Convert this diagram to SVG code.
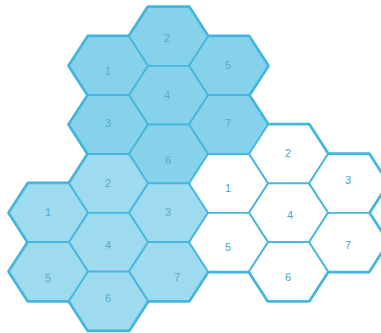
<svg xmlns="http://www.w3.org/2000/svg" xmlns:xlink="http://www.w3.org/1999/xlink" width="381" height="333" viewBox="0 0 381 333">
<style>
.under{fill:#3fb4dc;stroke:#3fb4dc;stroke-width:3.6;stroke-linejoin:round}
.h{stroke:#45b6dd;stroke-width:1.8;stroke-linejoin:round}
.a .h{fill:#86d2ea}
.b .h{fill:#9edbee}
.c .h{fill:#ffffff}
text{font-family:"Liberation Sans",Arial,sans-serif;font-size:11px;text-anchor:middle;fill:#5aaac6}
.c text{fill:#4aa6c4}
</style>
<defs>
<polygon id="hex" points="-39.5,0 -20.5,-29.4 20.5,-29.4 39.5,0 20.5,29.4 -20.5,29.4"/>
</defs>
<rect width="381" height="333" fill="#ffffff"/>
<g id="outlines" class="under">
<use xlink:href="#hex" x="168.5" y="36.4"/>
<use xlink:href="#hex" x="108.5" y="65.8"/>
<use xlink:href="#hex" x="228.5" y="65.8"/>
<use xlink:href="#hex" x="168.5" y="95.2"/>
<use xlink:href="#hex" x="108.5" y="124.6"/>
<use xlink:href="#hex" x="228.5" y="124.6"/>
<use xlink:href="#hex" x="168.5" y="154"/>
<use xlink:href="#hex" x="108.5" y="183.4"/>
<use xlink:href="#hex" x="48.5" y="212.8"/>
<use xlink:href="#hex" x="168.5" y="212.8"/>
<use xlink:href="#hex" x="108.5" y="242.2"/>
<use xlink:href="#hex" x="48.5" y="271.6"/>
<use xlink:href="#hex" x="168.5" y="271.6"/>
<use xlink:href="#hex" x="108.5" y="301"/>
<use xlink:href="#hex" x="288.5" y="154"/>
<use xlink:href="#hex" x="228.5" y="183.4"/>
<use xlink:href="#hex" x="348.5" y="183.4"/>
<use xlink:href="#hex" x="288.5" y="212.8"/>
<use xlink:href="#hex" x="228.5" y="242.2"/>
<use xlink:href="#hex" x="348.5" y="242.2"/>
<use xlink:href="#hex" x="288.5" y="271.6"/>
</g>
<g id="cluster-top" class="a">
<g id="t2"><use class="h" xlink:href="#hex" x="168.5" y="36.4"/><text x="167" y="42">2</text></g>
<g id="t1"><use class="h" xlink:href="#hex" x="108.5" y="65.8"/><text x="108" y="75">1</text></g>
<g id="t5"><use class="h" xlink:href="#hex" x="228.5" y="65.8"/><text x="228" y="69">5</text></g>
<g id="t4"><use class="h" xlink:href="#hex" x="168.5" y="95.2"/><text x="167" y="99">4</text></g>
<g id="t3"><use class="h" xlink:href="#hex" x="108.5" y="124.6"/><text x="108" y="127">3</text></g>
<g id="t7"><use class="h" xlink:href="#hex" x="228.5" y="124.6"/><text x="228" y="127">7</text></g>
<g id="t6"><use class="h" xlink:href="#hex" x="168.5" y="154"/><text x="168" y="164">6</text></g>
</g>
<g id="cluster-left" class="b">
<g id="l2"><use class="h" xlink:href="#hex" x="108.5" y="183.4"/><text x="108" y="187">2</text></g>
<g id="l1"><use class="h" xlink:href="#hex" x="48.5" y="212.8"/><text x="48" y="216">1</text></g>
<g id="l3"><use class="h" xlink:href="#hex" x="168.5" y="212.8"/><text x="168" y="216">3</text></g>
<g id="l4"><use class="h" xlink:href="#hex" x="108.5" y="242.2"/><text x="108" y="249">4</text></g>
<g id="l5"><use class="h" xlink:href="#hex" x="48.5" y="271.6"/><text x="48" y="282">5</text></g>
<g id="l7"><use class="h" xlink:href="#hex" x="168.5" y="271.6"/><text x="177" y="281">7</text></g>
<g id="l6"><use class="h" xlink:href="#hex" x="108.5" y="301"/><text x="108" y="302">6</text></g>
</g>
<g id="cluster-right" class="c">
<g id="r2"><use class="h" xlink:href="#hex" x="288.5" y="154"/><text x="288" y="157">2</text></g>
<g id="r1"><use class="h" xlink:href="#hex" x="228.5" y="183.4"/><text x="228" y="192">1</text></g>
<g id="r3"><use class="h" xlink:href="#hex" x="348.5" y="183.4"/><text x="348" y="184">3</text></g>
<g id="r4"><use class="h" xlink:href="#hex" x="288.5" y="212.8"/><text x="290" y="219">4</text></g>
<g id="r5"><use class="h" xlink:href="#hex" x="228.5" y="242.2"/><text x="228" y="251">5</text></g>
<g id="r7"><use class="h" xlink:href="#hex" x="348.5" y="242.2"/><text x="348" y="249">7</text></g>
<g id="r6"><use class="h" xlink:href="#hex" x="288.5" y="271.6"/><text x="288" y="281">6</text></g>
</g>
</svg>
